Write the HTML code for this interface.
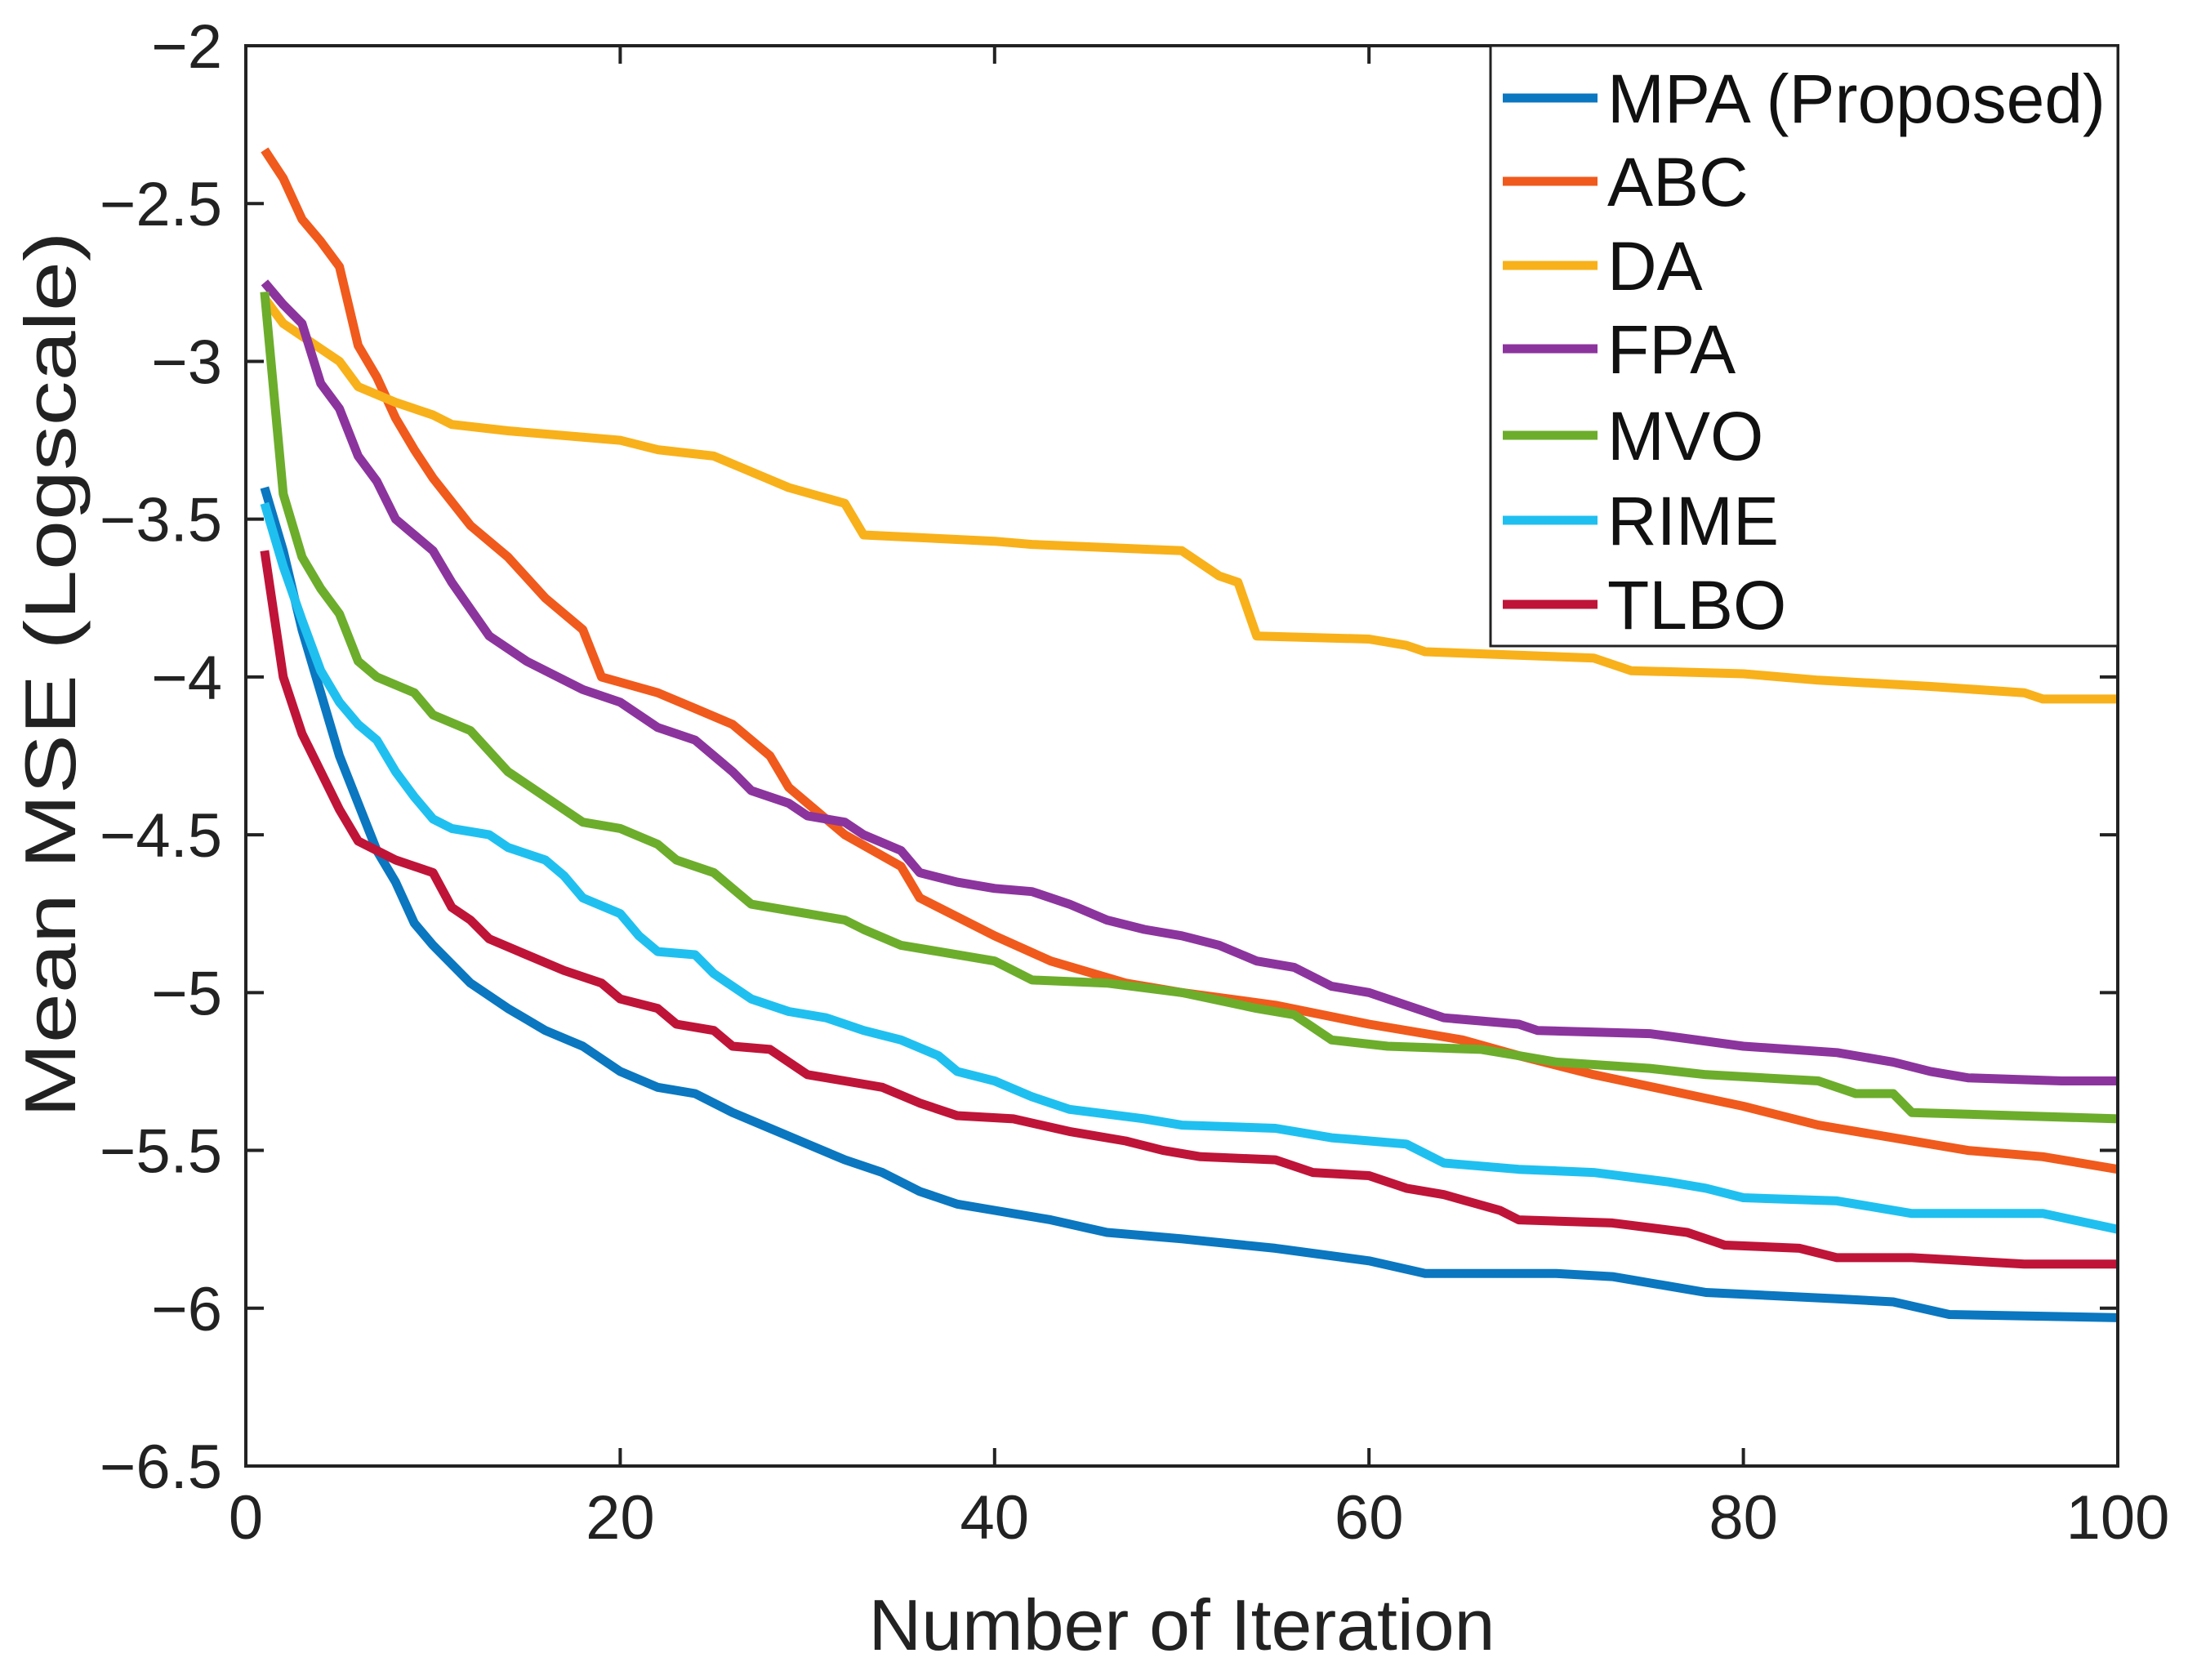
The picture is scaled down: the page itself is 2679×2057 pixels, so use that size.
<!DOCTYPE html>
<html><head><meta charset="utf-8"><style>
html,body{margin:0;padding:0;background:#fff;}
svg{display:block;font-family:"Liberation Sans",Arial,sans-serif;}
</style></head><body>
<svg id="chart" width="2679" height="2057" viewBox="0 0 2679 2057" xmlns="http://www.w3.org/2000/svg">
<rect width="2679" height="2057" fill="#fff"/>
<g id="series"></g>
<g id="axes"></g>
<g id="legend"></g>
</svg>
<script>
const xTicks = [0, 20, 40, 60, 80, 100];
const yTicks = [-2, -2.5, -3, -3.5, -4, -4.5, -5, -5.5, -6, -6.5];
const yTickLabels = ["\u22122","\u22122.5","\u22123","\u22123.5","\u22124","\u22124.5","\u22125","\u22125.5","\u22126","\u22126.5"];
const seriesNames = ["MPA (Proposed)","ABC","DA","FPA","MVO","RIME","TLBO"];
const mpaX = [1,2,3,4,5,6,7,8,9,10,12,14,16,18,20,22,24,26,28,30,32,34,36,38,40,43,46,50,55,60,63,70,73,76,78,85,88,91,100];
const mpaY = [-3.4,-3.6,-3.85,-4.05,-4.25,-4.4,-4.55,-4.65,-4.78,-4.85,-4.97,-5.05,-5.12,-5.17,-5.25,-5.3,-5.32,-5.38,-5.43,-5.48,-5.53,-5.57,-5.63,-5.67,-5.69,-5.72,-5.76,-5.78,-5.81,-5.85,-5.89,-5.89,-5.9,-5.93,-5.95,-5.97,-5.98,-6.02,-6.03];
const abcX = [1,2,3,4,5,6,7,8,9,10,12,14,16,18,19,22,24,26,28,29,30,32,35,36,40,43,47,50,55,60,65,68,72,76,80,84,88,92,96,100];
const abcY = [-2.33,-2.42,-2.55,-2.62,-2.7,-2.95,-3.05,-3.18,-3.28,-3.37,-3.52,-3.62,-3.75,-3.85,-4.0,-4.05,-4.1,-4.15,-4.25,-4.35,-4.4,-4.5,-4.6,-4.7,-4.82,-4.9,-4.97,-5.0,-5.04,-5.1,-5.15,-5.2,-5.26,-5.31,-5.36,-5.42,-5.46,-5.5,-5.52,-5.56];
const daX = [1,2,3,4,5,6,8,10,11,14,20,22,25,27,29,32,33,40,42,50,52,53,54,60,62,63,72,74,80,84,90,95,96,100];
const daY = [-2.8,-2.88,-2.92,-2.96,-3.0,-3.08,-3.13,-3.17,-3.2,-3.22,-3.25,-3.28,-3.3,-3.35,-3.4,-3.45,-3.55,-3.57,-3.58,-3.6,-3.68,-3.7,-3.87,-3.88,-3.9,-3.92,-3.94,-3.98,-3.99,-4.01,-4.03,-4.05,-4.07,-4.07];
const fpaX = [1,2,3,4,5,6,7,8,9,10,11,13,15,18,20,22,24,25,26,27,29,30,32,33,35,36,38,40,42,44,46,48,50,52,54,56,58,60,62,64,68,69,75,80,85,88,90,92,97,100];
const fpaY = [-2.75,-2.82,-2.88,-3.07,-3.15,-3.3,-3.38,-3.5,-3.55,-3.6,-3.7,-3.87,-3.95,-4.04,-4.08,-4.16,-4.2,-4.25,-4.3,-4.36,-4.4,-4.44,-4.46,-4.5,-4.55,-4.62,-4.65,-4.67,-4.68,-4.72,-4.77,-4.8,-4.82,-4.85,-4.9,-4.92,-4.98,-5.0,-5.04,-5.08,-5.1,-5.12,-5.13,-5.17,-5.19,-5.22,-5.25,-5.27,-5.28,-5.28];
const mvoX = [1,2,3,4,5,6,7,9,10,12,14,16,18,20,22,23,25,26,27,30,32,33,35,37,40,42,46,50,54,56,58,61,66,68,70,75,78,84,86,88,89,100];
const mvoY = [-2.78,-3.42,-3.62,-3.72,-3.8,-3.95,-4.0,-4.05,-4.12,-4.17,-4.3,-4.38,-4.46,-4.48,-4.53,-4.58,-4.62,-4.67,-4.72,-4.75,-4.77,-4.8,-4.85,-4.87,-4.9,-4.96,-4.97,-5.0,-5.05,-5.07,-5.15,-5.17,-5.18,-5.2,-5.22,-5.24,-5.26,-5.28,-5.32,-5.32,-5.38,-5.4];
const rimeX = [1,2,3,4,5,6,7,8,9,10,11,13,14,16,17,18,20,21,22,24,25,27,29,31,33,35,37,38,40,42,44,48,50,55,58,62,64,68,72,76,78,80,85,89,96,100];
const rimeY = [-3.45,-3.65,-3.82,-3.98,-4.08,-4.15,-4.2,-4.3,-4.38,-4.45,-4.48,-4.5,-4.54,-4.58,-4.63,-4.7,-4.75,-4.82,-4.87,-4.88,-4.94,-5.02,-5.06,-5.08,-5.12,-5.15,-5.2,-5.25,-5.28,-5.33,-5.37,-5.4,-5.42,-5.43,-5.46,-5.48,-5.54,-5.56,-5.57,-5.6,-5.62,-5.65,-5.66,-5.7,-5.7,-5.75];
const tlboX = [1,2,3,4,5,6,8,10,11,12,13,15,17,19,20,22,23,25,26,28,30,32,34,36,38,41,44,47,49,51,55,57,60,62,64,67,68,73,77,79,83,85,89,95,100];
const tlboY = [-3.6,-4.0,-4.18,-4.3,-4.42,-4.52,-4.58,-4.62,-4.73,-4.77,-4.83,-4.88,-4.93,-4.97,-5.02,-5.05,-5.1,-5.12,-5.17,-5.18,-5.26,-5.28,-5.3,-5.35,-5.39,-5.4,-5.44,-5.47,-5.5,-5.52,-5.53,-5.57,-5.58,-5.62,-5.64,-5.69,-5.72,-5.73,-5.76,-5.8,-5.81,-5.84,-5.84,-5.86,-5.86];

const NS = "http://www.w3.org/2000/svg";
const L = 301, R = 2593, T = 56, B = 1795;
const xMin = 0, xMax = 100, yMin = -6.5, yMax = -2;
function sx(v){ return L + (v - xMin) / (xMax - xMin) * (R - L); }
function sy(v){ return B - (v - yMin) / (yMax - yMin) * (B - T); }
function mk(tag, attrs, parent){ const e = document.createElementNS(NS, tag); for (const k in attrs) e.setAttribute(k, attrs[k]); parent.appendChild(e); return e; }

const colors = ["#0a77c0","#f05a1c","#f8b11a","#8c349e","#6cad2c","#1fc0f0","#bf1438"];
const xs = [mpaX, abcX, daX, fpaX, mvoX, rimeX, tlboX];
const ys = [mpaY, abcY, daY, fpaY, mvoY, rimeY, tlboY];
const keys = ["mpa","abc","da","fpa","mvo","rime","tlbo"];

const sg = document.getElementById("series");
for (let i = 0; i < seriesNames.length; i++) {
  let d = "";
  for (let j = 0; j < xs[i].length; j++) d += (j ? "L" : "M") + sx(xs[i][j]).toFixed(1) + "," + sy(ys[i][j]).toFixed(1);
  const p = mk("path", {d: d, fill: "none", stroke: colors[i], "stroke-width": 11, "stroke-linejoin": "round"}, sg);
  
  
}

const ag = document.getElementById("axes");
const box = mk("rect", {x: L, y: T, width: R - L, height: B - T, fill: "none", stroke: "#222", "stroke-width": 4}, ag);


xTicks.forEach(function(v){
  const x = sx(v);
  mk("line", {x1: x, y1: B, x2: x, y2: B - 22, stroke: "#222", "stroke-width": 4}, ag);
  mk("line", {x1: x, y1: T, x2: x, y2: T + 22, stroke: "#222", "stroke-width": 4}, ag);
  const t = mk("text", {x: x, y: B + 89, "font-size": 76, "text-anchor": "middle", fill: "#222"}, ag);
  t.textContent = String(v);
  
  
});
yTicks.forEach(function(v, i){
  const y = sy(v);
  mk("line", {x1: L, y1: y, x2: L + 22, y2: y, stroke: "#222", "stroke-width": 4}, ag);
  mk("line", {x1: R, y1: y, x2: R - 22, y2: y, stroke: "#222", "stroke-width": 4}, ag);
  const t = mk("text", {x: 272, y: y + 27, "font-size": 76, "text-anchor": "end", fill: "#222"}, ag);
  t.textContent = yTickLabels[i];
  
  
});
const xt = mk("text", {x: (L + R) / 2, y: 2020, "font-size": 88, "text-anchor": "middle", fill: "#222", textLength: 767, lengthAdjust: "spacingAndGlyphs"}, ag);
xt.textContent = "Number of Iteration";


const yt = mk("text", {x: 0, y: 0, "font-size": 88, "text-anchor": "middle", fill: "#222", transform: "translate(92,826) rotate(-90)", textLength: 1085, lengthAdjust: "spacingAndGlyphs"}, ag);
yt.textContent = "Mean MSE (Logscale)";



const lg = document.getElementById("legend");
const lb = mk("rect", {x: 1825, y: 56, width: 768, height: 735, fill: "#fff", stroke: "#222", "stroke-width": 3}, lg);


const rowY = [120, 222, 325, 427, 533, 637, 740];
for (let i = 0; i < seriesNames.length; i++) {
  const g = mk("g", {}, lg);
  
  
  mk("line", {x1: 1840, y1: rowY[i], x2: 1956, y2: rowY[i], stroke: colors[i], "stroke-width": 11}, g);
  const t = mk("text", {x: 1968, y: rowY[i] + 30, "font-size": 84, fill: "#111"}, g);
  t.textContent = seriesNames[i];
}
</script>
</body></html>
